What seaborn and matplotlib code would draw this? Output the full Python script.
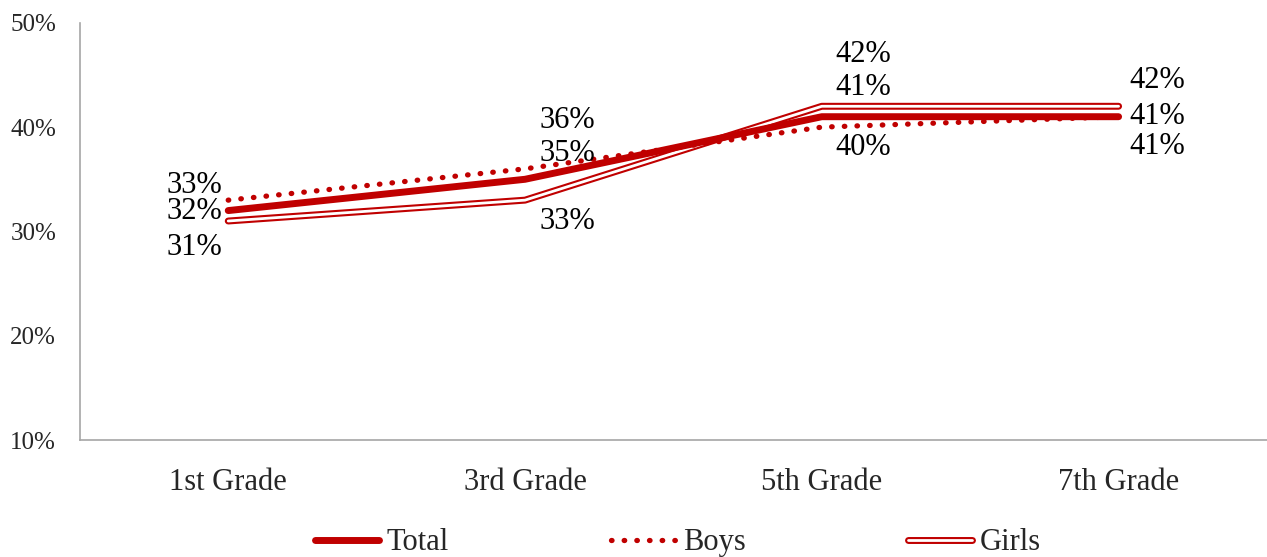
import pandas as pd
import matplotlib.pyplot as plt
import seaborn as sns
from matplotlib.lines import Line2D

grades = ['1st Grade', '3rd Grade', '5th Grade', '7th Grade']
total = [32, 35, 41, 41]
boys = [33, 36, 40, 41]
girls = [31, 33, 42, 42]

RED = '#C00000'

sns.set_style('white')
plt.rcParams['font.family'] = ['Liberation Serif', 'DejaVu Serif']

df = pd.DataFrame({'grade': grades, 'Total': total, 'Boys': boys, 'Girls': girls})

fig = plt.figure(figsize=(12.67, 5.57), dpi=100)
ax = fig.add_axes([0.063, 0.21, 0.937, 0.749])

# girls: double line = thick red with white core
sns.lineplot(data=df, x='grade', y='Girls', ax=ax, color=RED, lw=5, sort=False)
sns.lineplot(data=df, x='grade', y='Girls', ax=ax, color='white', lw=2, sort=False)
sns.lineplot(data=df, x='grade', y='Boys', ax=ax, color=RED, lw=3.8, sort=False,
             linestyle=(0, (0.1, 2.3)), dash_capstyle='round')
sns.lineplot(data=df, x='grade', y='Total', ax=ax, color=RED, lw=5, sort=False,
             solid_capstyle='round')

ax.set_xlim(-0.5, 3.5)
ax.set_ylim(10, 50)
ax.set_yticks([10, 20, 30, 40, 50])
ax.set_yticklabels([f'{v}%' for v in [10, 20, 30, 40, 50]], fontsize=18)
ax.tick_params(axis='x', labelsize=22, pad=20, length=0)
ax.tick_params(axis='y', length=0, pad=17)
ax.set_xlabel('')
ax.set_ylabel('')
for s in ['top', 'right']:
    ax.spines[s].set_visible(False)
for s in ['left', 'bottom']:
    ax.spines[s].set_color('#A6A6A6')
    ax.spines[s].set_linewidth(1.2)

# label offsets (pixels) per grade: (dx, ha, boys_dy, total_dy, girls_dy)
offs = [(-6, 'right', 15, -1, -26),
        (14, 'left', 48, 26, -21),
        (14, 'left', -20, 29, 52),
        (11, 'left', -30, 0, 26)]
for i, (dx, ha, by, ty, gy) in enumerate(offs):
    for vals, dy in ((boys, by), (total, ty), (girls, gy)):
        ax.annotate(f'{vals[i]}%', (i, vals[i]), xytext=(dx, dy), textcoords='offset pixels',
                    ha=ha, va='center', fontsize=22, color='#000000')

h_total = Line2D([], [], color=RED, lw=5, solid_capstyle='round')
h_boys = Line2D([], [], color=RED, lw=3.8, linestyle=(0, (0.1, 2.3)), dash_capstyle='round')
h_girls = (Line2D([], [], color=RED, lw=5), Line2D([], [], color='white', lw=2))
fig.legend([h_total, h_boys, h_girls], ['Total', 'Boys', 'Girls'], loc='lower center',
           bbox_to_anchor=(0.535, -0.05), ncol=3, frameon=False, fontsize=22,
           handlelength=2.1, handletextpad=0.25, columnspacing=5.3)

fig.savefig('out.png', dpi=100)
